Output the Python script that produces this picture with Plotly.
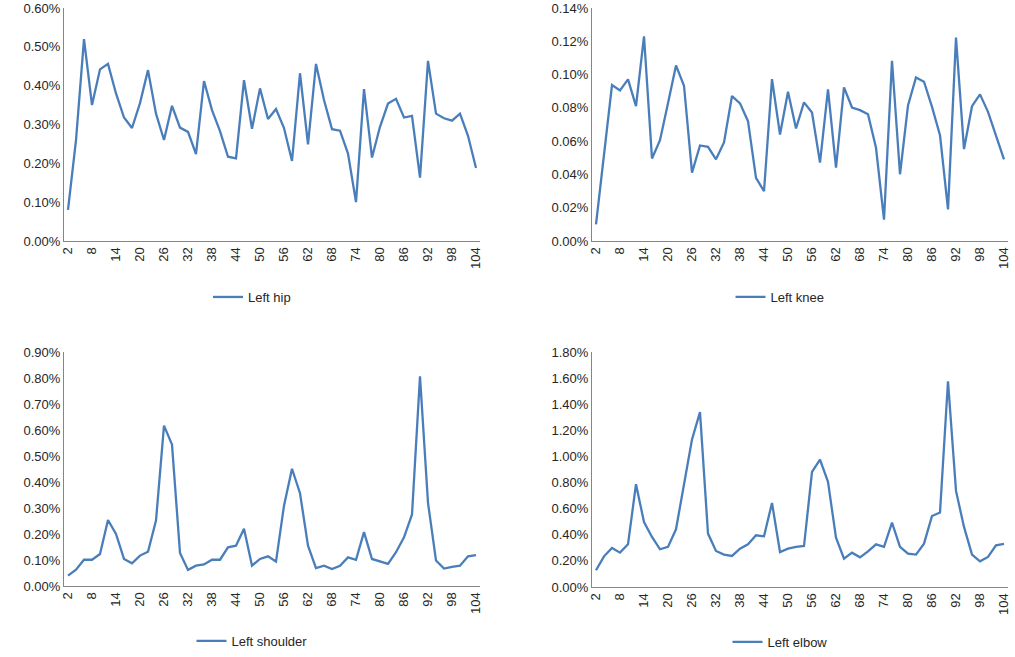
import plotly.graph_objects as go

frames = [str(v) for v in range(2, 106, 2)]
tick_labels = [str(v) for v in range(2, 106, 6)]

left_hip = [0.08, 0.26, 0.52, 0.35, 0.442, 0.456, 0.38, 0.318, 0.291, 0.355, 0.44, 0.328,
            0.26, 0.348, 0.292, 0.281, 0.224, 0.412, 0.337, 0.283, 0.217, 0.213, 0.414, 0.289,
            0.393, 0.314, 0.34, 0.291, 0.206, 0.432, 0.249, 0.456, 0.363, 0.288, 0.284, 0.225,
            0.10, 0.391, 0.215, 0.294, 0.354, 0.366, 0.318, 0.322, 0.163, 0.464, 0.328, 0.316,
            0.31, 0.328, 0.271, 0.188]
left_knee = [0.010, 0.052, 0.0937, 0.0905, 0.0971, 0.081, 0.123, 0.0496, 0.0606, 0.0827, 0.1055,
             0.0933, 0.0411, 0.0574, 0.0566, 0.0491, 0.0592, 0.0871, 0.0827, 0.072, 0.0379, 0.0299,
             0.0973, 0.064, 0.0897, 0.0676, 0.0833, 0.0772, 0.0471, 0.0911, 0.0441, 0.0923, 0.0802,
             0.0786, 0.0762, 0.056, 0.0128, 0.1083, 0.0401, 0.0814, 0.0983, 0.0957, 0.0806, 0.0636,
             0.019, 0.1222, 0.0552, 0.081, 0.0881, 0.0776, 0.0632, 0.049]
left_shoulder = [0.04, 0.063, 0.101, 0.101, 0.123, 0.254, 0.2, 0.104, 0.087, 0.117, 0.132, 0.252,
                 0.617, 0.544, 0.127, 0.062, 0.078, 0.083, 0.101, 0.101, 0.149, 0.155, 0.22, 0.078,
                 0.104, 0.114, 0.094, 0.309, 0.451, 0.357, 0.155, 0.069, 0.078, 0.065, 0.078, 0.11,
                 0.101, 0.207, 0.104, 0.094, 0.085, 0.13, 0.187, 0.275, 0.806, 0.32, 0.098, 0.067,
                 0.074, 0.078, 0.114, 0.119]
left_elbow = [0.128, 0.235, 0.299, 0.263, 0.327, 0.787, 0.498, 0.383, 0.289, 0.307, 0.442, 0.80,
              1.13, 1.34, 0.409, 0.276, 0.248, 0.238, 0.294, 0.327, 0.396, 0.388, 0.644, 0.268,
              0.294, 0.307, 0.314, 0.881, 0.976, 0.805, 0.378, 0.217, 0.263, 0.227, 0.273, 0.327,
              0.307, 0.493, 0.307, 0.255, 0.248, 0.332, 0.544, 0.57, 1.576, 0.736, 0.46, 0.248,
              0.197, 0.23, 0.319, 0.33]

panels = [
    ("Left hip", left_hip, [0, 0.6], 0.1),
    ("Left knee", left_knee, [0, 0.14], 0.02),
    ("Left shoulder", left_shoulder, [0, 0.9], 0.1),
    ("Left elbow", left_elbow, [0, 1.8], 0.2),
]

W, H = 1015, 657
xdoms = [(64, 480), (592, 1008), (64, 480), (592, 1008)]
ydoms = [(8, 241), (8, 241), (352, 586), (352, 587)]
legend_pos = [(252, 297), (780, 297), (252, 641), (780, 642)]

LINE = "#4A7EBB"
AXIS = "#868686"
TEXT = "#262626"
FONT = "Liberation Sans"

fig = go.Figure()
layout = {}
for i, (name, vals, yr, dt) in enumerate(panels):
    n = i + 1
    xa = "x" if n == 1 else f"x{n}"
    ya = "y" if n == 1 else f"y{n}"
    lg = "legend" if n == 1 else f"legend{n}"
    fig.add_trace(go.Scatter(x=frames, y=vals, mode="lines", name=name,
                             line=dict(color=LINE, width=2.3),
                             xaxis=xa, yaxis=ya, legend=lg, showlegend=True))
    x0, x1 = xdoms[i]
    y0, y1 = ydoms[i]
    layout["xaxis" if n == 1 else f"xaxis{n}"] = dict(
        domain=[x0 / W, x1 / W], anchor=ya, type="category",
        categoryorder="array", categoryarray=frames,
        tickmode="array", tickvals=tick_labels, ticktext=tick_labels,
        tickangle=-90, showgrid=False, showline=True, linecolor=AXIS, linewidth=1,
        ticks="", tickfont=dict(size=13, color=TEXT, family=FONT), zeroline=False,
        range=[-0.5, len(frames) - 0.5], fixedrange=True, automargin=False)
    layout["yaxis" if n == 1 else f"yaxis{n}"] = dict(
        domain=[1 - y1 / H, 1 - y0 / H], anchor=xa, range=yr, dtick=dt,
        tickformat=".2f", ticksuffix="%", showgrid=False, showline=True,
        linecolor=AXIS, linewidth=1, ticks="", zeroline=False, automargin=False,
        tickfont=dict(size=13, color=TEXT, family=FONT))
    lx, ly = legend_pos[i]
    layout[lg] = dict(x=lx / W, y=1 - ly / H, xanchor="center", yanchor="middle",
                      orientation="h", bgcolor="rgba(0,0,0,0)",
                      font=dict(size=13, color=TEXT, family=FONT))

fig.update_layout(**layout)
fig.update_layout(width=W, height=H, margin=dict(l=0, r=0, t=0, b=0, autoexpand=False),
                  paper_bgcolor="white", plot_bgcolor="white",
                  font=dict(family=FONT, color=TEXT))
fig.write_html("out.html", config={"displayModeBar": False},
               post_script="document.body.style.margin='0';")
